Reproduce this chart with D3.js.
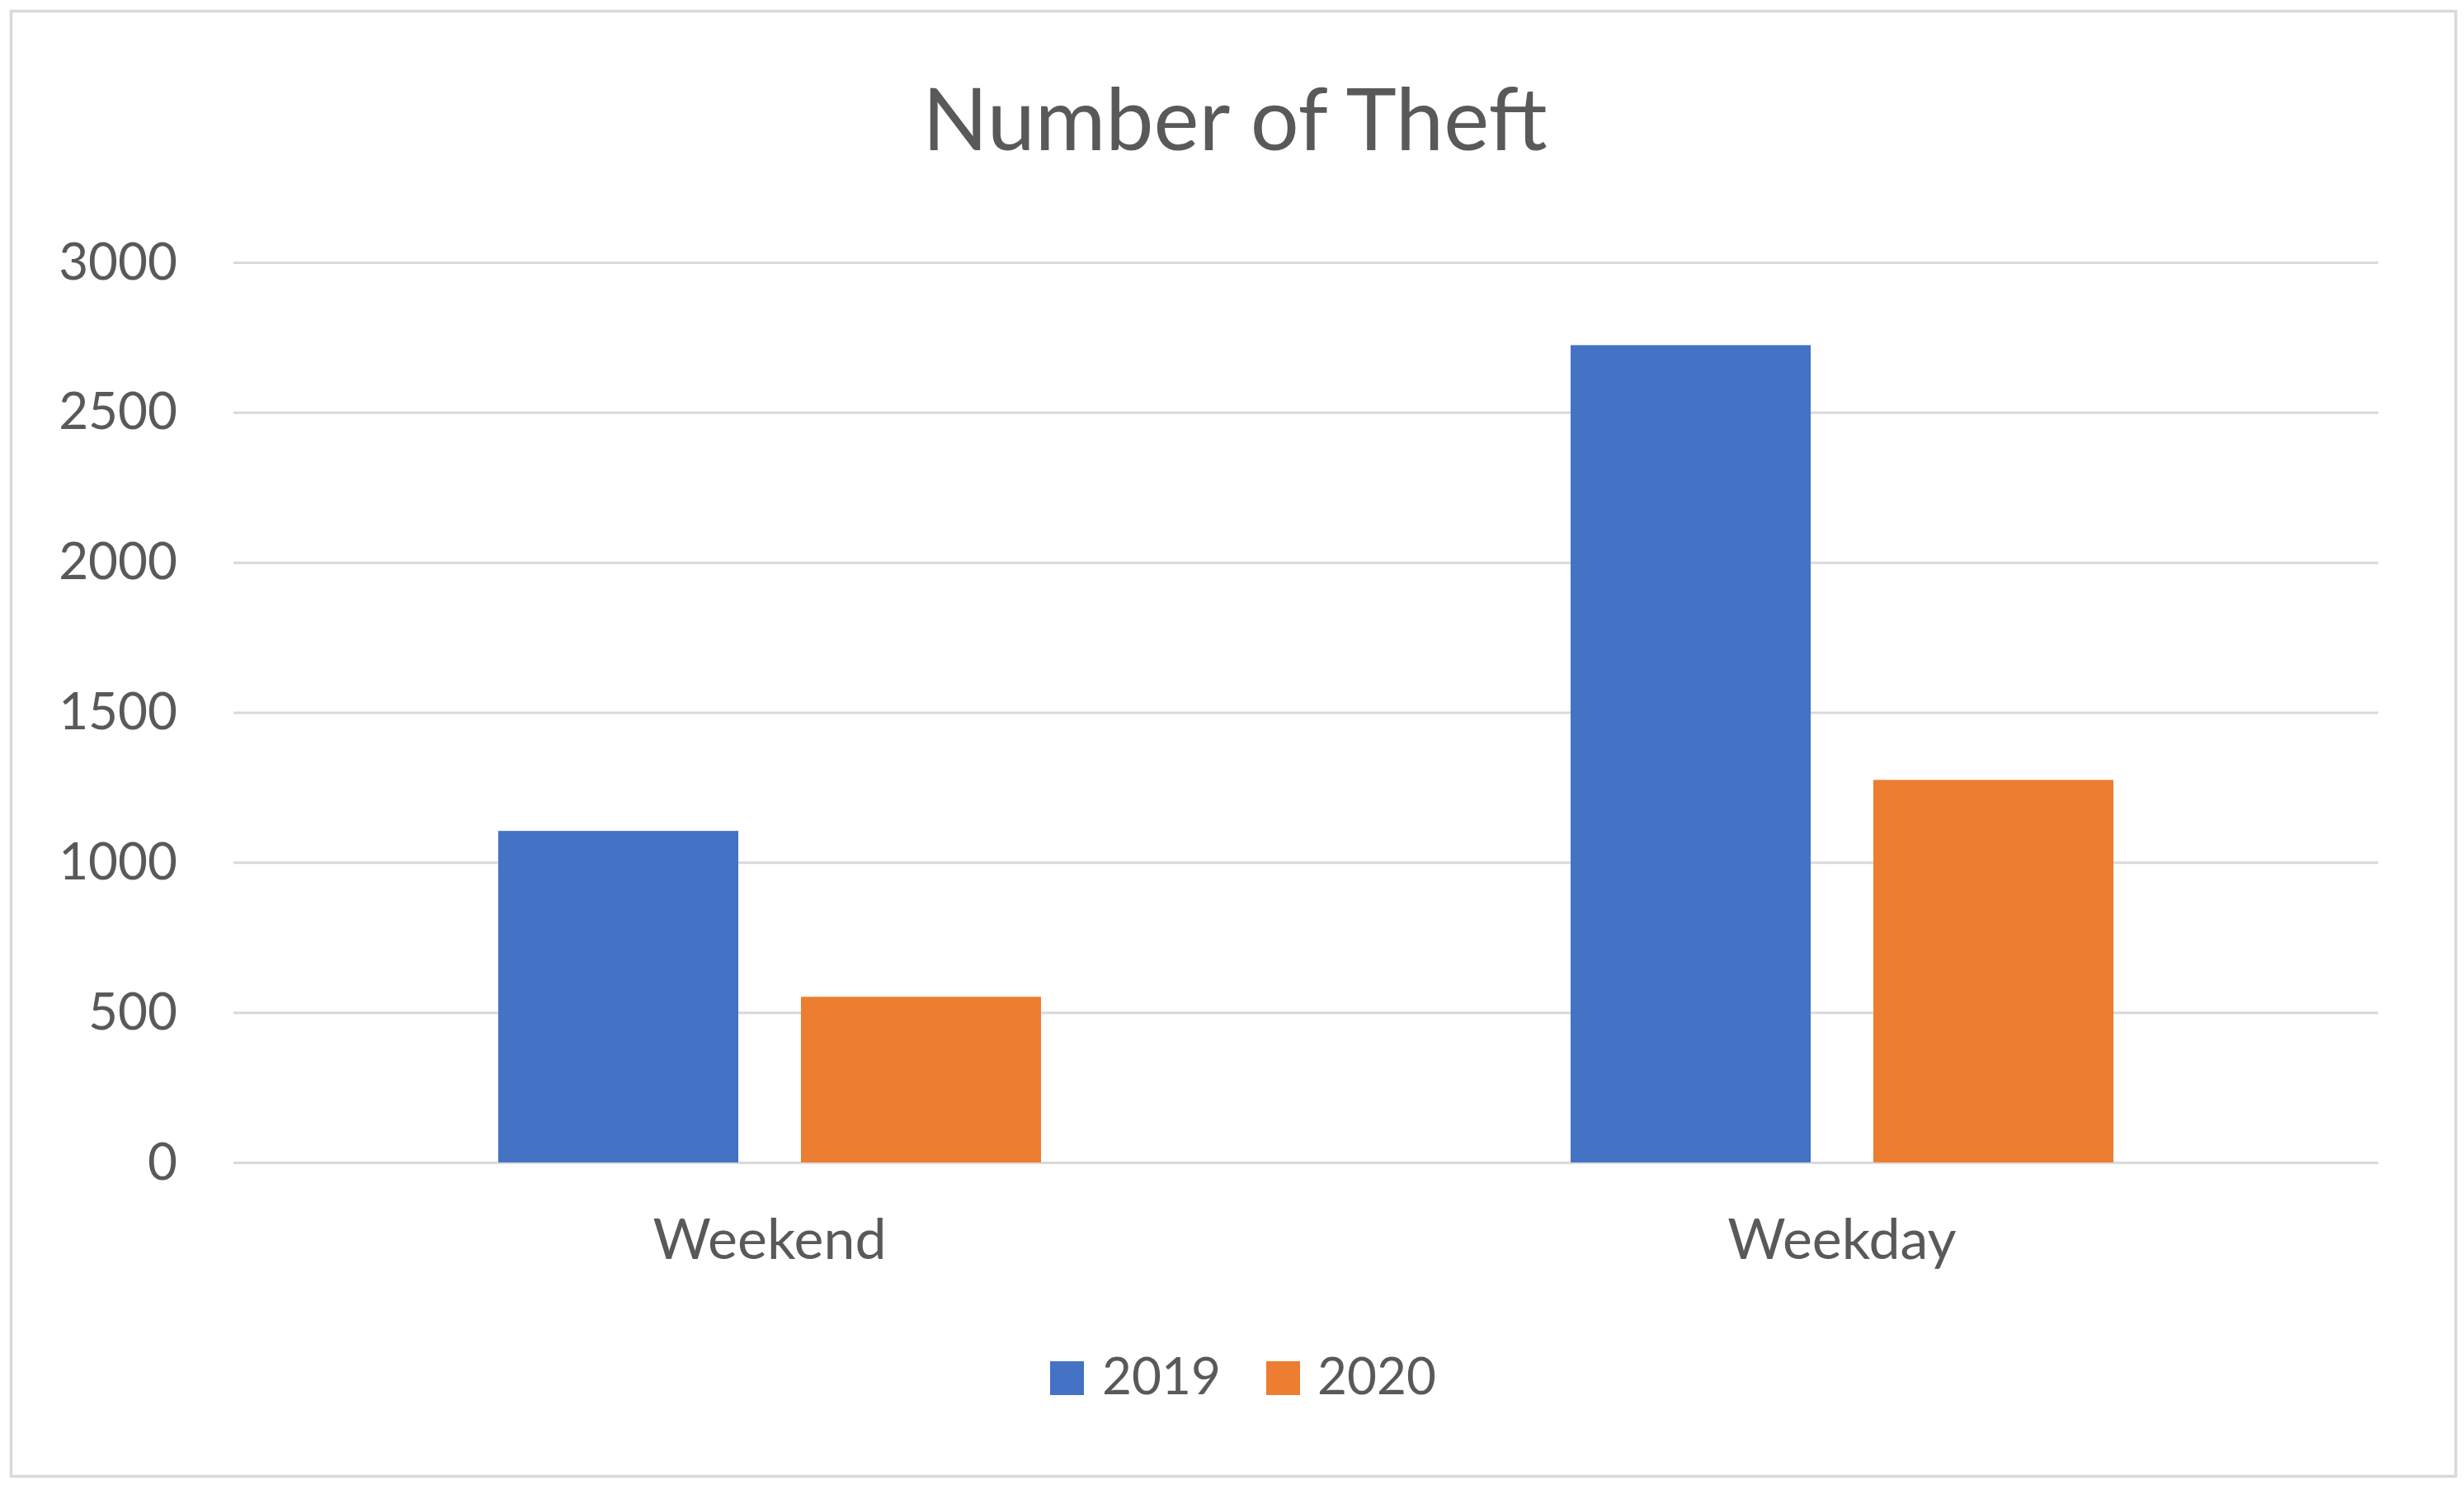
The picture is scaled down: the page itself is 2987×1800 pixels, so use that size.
<!DOCTYPE html>
<html>
<head>
<meta charset="utf-8">
<script src="https://cdn.jsdelivr.net/npm/d3@7"></script>
<style>
  html, body { margin: 0; padding: 0; background: #ffffff; }
  svg { display: block; }
  text { font-family: Lato, "Open Sans", "Liberation Sans", sans-serif; fill: #595959; }
</style>
</head>
<body>
<svg id="chart" width="2987" height="1800"></svg>
<script>
// ---- data ----
const title = "Number of Theft";
const categories = ["Weekend", "Weekday"];
const seriesNames = ["2019", "2020"];
const values2019 = [1105, 2724];
const values2020 = [552, 1275];
const yTicks = [0, 500, 1000, 1500, 2000, 2500, 3000];
const seriesColors = ["#4472C4", "#ED7D31"];

const seriesValues = [values2019, values2020];
const rows = categories.map((c, i) => ({
  category: c,
  values: seriesNames.map((s, j) => ({ series: s, value: seriesValues[j][i] }))
}));

// ---- layout ----
const plot = { left: 283, right: 2883, top: 318, bottom: 1409 };

const svg = d3.select("#chart");

// outer chart border
svg.append("rect")
  .attr("x", 13.5).attr("y", 13.5)
  .attr("width", 2963.5).attr("height", 1776)
  .attr("fill", "#ffffff")
  .attr("stroke", "#d9d9d9").attr("stroke-width", 3.5);

// scales
const y = d3.scaleLinear().domain([0, 3000]).range([plot.bottom, plot.top]);
const x0 = d3.scaleBand().domain(categories).range([plot.left, plot.right]).paddingInner(0).paddingOuter(0);
const groupInset = 321;
const x1 = d3.scaleBand().domain(seriesNames)
  .range([groupInset, x0.bandwidth() - groupInset])
  .paddingInner(0.207).paddingOuter(0);
const color = d3.scaleOrdinal().domain(seriesNames).range(seriesColors);

// gridlines via axis
const yGrid = d3.axisLeft(y).tickValues(yTicks).tickSize(-(plot.right - plot.left)).tickFormat("");
const gridG = svg.append("g").attr("transform", `translate(${plot.left},0)`).call(yGrid);
gridG.select(".domain").remove();
gridG.selectAll(".tick line").attr("stroke", "#d9d9d9").attr("stroke-width", 3);

// y axis labels
const yAxis = d3.axisLeft(y).tickValues(yTicks).tickSize(0).tickPadding(0).tickFormat(d3.format("d"));
const yG = svg.append("g").attr("transform", `translate(215,0)`).call(yAxis);
yG.select(".domain").remove();
yG.selectAll(".tick text")
  .attr("font-size", 62)
  .attr("dy", null)
  .attr("y", 20)
  .style("font-family", "Lato, 'Open Sans', sans-serif")
  .attr("fill", "#595959");

// bars
const groups = svg.append("g").selectAll("g")
  .data(rows).join("g")
  .attr("transform", d => `translate(${x0(d.category)},0)`);
groups.selectAll("rect")
  .data(d => d.values).join("rect")
  .attr("x", d => x1(d.series))
  .attr("width", x1.bandwidth())
  .attr("y", d => y(d.value))
  .attr("height", d => y(0) - y(d.value))
  .attr("fill", d => color(d.series));

// x axis labels
const xAxis = d3.axisBottom(x0).tickSize(0).tickPadding(0);
const xG = svg.append("g").attr("transform", `translate(0,${plot.bottom})`).call(xAxis);
xG.select(".domain").remove();
xG.selectAll(".tick text")
  .attr("font-size", 68)
  .attr("dy", null)
  .attr("y", 117)
  .style("font-family", "Lato, 'Open Sans', sans-serif")
  .attr("fill", "#595959");

// title
svg.append("text")
  .attr("x", 1497).attr("y", 182)
  .attr("text-anchor", "middle")
  .attr("font-size", 104)
  .attr("font-weight", 400)
  .text(title);

// legend
const legendItems = [
  { name: seriesNames[0], sx: 1273, tx: 1336 },
  { name: seriesNames[1], sx: 1535, tx: 1597 }
];
const lg = svg.append("g");
lg.selectAll("rect").data(legendItems).join("rect")
  .attr("x", d => d.sx).attr("y", 1650)
  .attr("width", 41).attr("height", 41)
  .attr("fill", d => color(d.name));
lg.selectAll("text").data(legendItems).join("text")
  .attr("x", d => d.tx).attr("y", 1690)
  .attr("font-size", 62)
  .text(d => d.name);
</script>
</body>
</html>
